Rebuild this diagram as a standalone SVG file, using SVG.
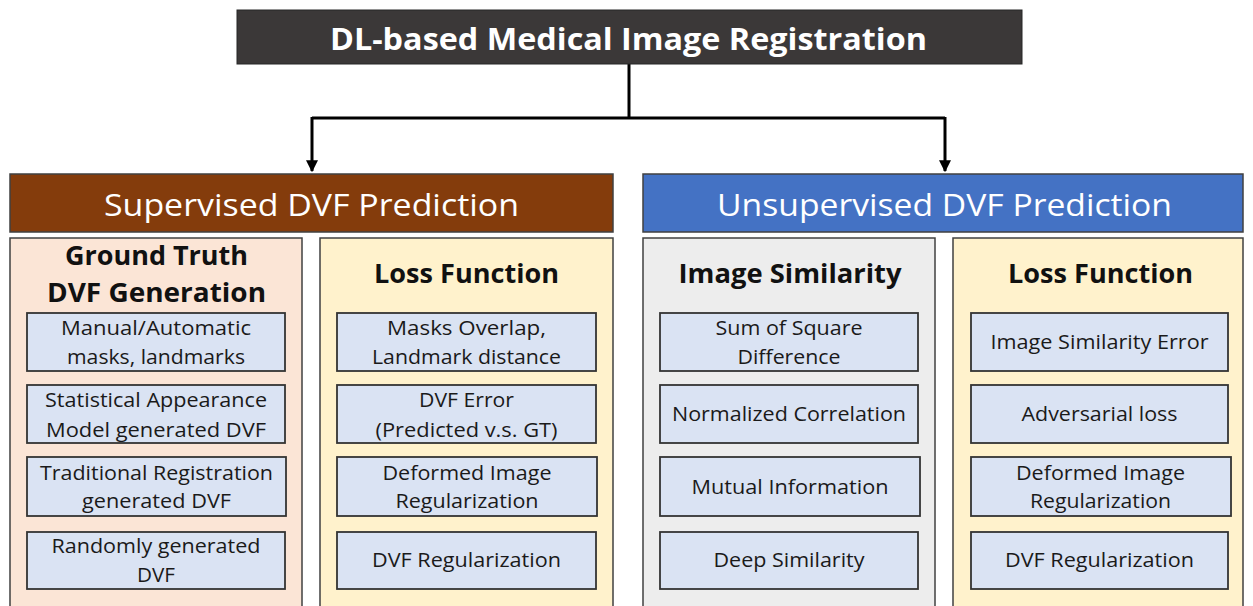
<svg xmlns="http://www.w3.org/2000/svg" width="1253" height="606" viewBox="0 0 1253 606">
<defs>
<style>
text{font-family:"Open Sans","Liberation Sans",sans-serif;text-anchor:middle;}
.title{font-size:31px;font-weight:bold;fill:#ffffff;}
.head{font-size:31px;fill:#ffffff;}
.ptitle{font-size:27px;font-weight:bold;fill:#111111;}
.item{font-size:20px;fill:#1a1a1a;}
.panel{stroke:#404040;stroke-width:1.5;}
.box{fill:#DAE3F3;stroke:#333333;stroke-width:1.8;}
.conn{stroke:#000000;stroke-width:3;fill:none;}
</style>
<marker id="ah" viewBox="0 0 10 10" refX="9" refY="5" markerWidth="4" markerHeight="4" orient="auto" markerUnits="strokeWidth">
<path d="M0,0 L10,5 L0,10 z" fill="#000000"/>
</marker>
</defs>
<rect width="1253" height="606" fill="#ffffff"/>

<g id="connectors">
<path class="conn" d="M629,64 V118"/>
<path class="conn" d="M312,118 H945"/>
<path class="conn" d="M312,117 V171" marker-end="url(#ah)"/>
<path class="conn" d="M945,117 V171" marker-end="url(#ah)"/>
</g>

<g id="root">
<rect x="237" y="10" width="785" height="54" fill="#3B3838" stroke="#262626" stroke-width="1"/>
<text class="title" x="628.5" y="50" textLength="597" lengthAdjust="spacingAndGlyphs">DL-based Medical Image Registration</text>
</g>

<g id="supervised">
<rect x="10" y="174" width="603" height="58" fill="#843C0C" stroke="#404040" stroke-width="1.5"/>
<text class="head" x="311.5" y="216" textLength="415" lengthAdjust="spacingAndGlyphs">Supervised DVF Prediction</text>
</g>

<g id="unsupervised">
<rect x="643" y="174" width="600" height="58" fill="#4472C4" stroke="#404040" stroke-width="1.5"/>
<text class="head" x="944.5" y="216" textLength="455" lengthAdjust="spacingAndGlyphs">Unsupervised DVF Prediction</text>
</g>

<g id="gt-panel">
<rect class="panel" x="10" y="238" width="292" height="376" fill="#FBE5D6"/>
<text class="ptitle" x="156.5" y="265" textLength="183" lengthAdjust="spacingAndGlyphs">Ground Truth</text>
<text class="ptitle" x="156.5" y="302" textLength="219" lengthAdjust="spacingAndGlyphs">DVF Generation</text>
</g>
<g id="gt-1">
<rect class="box" x="27" y="313" width="258" height="58"/>
<text class="item" x="156" y="335" textLength="190" lengthAdjust="spacingAndGlyphs">Manual/Automatic</text>
<text class="item" x="156" y="364" textLength="178" lengthAdjust="spacingAndGlyphs">masks, landmarks</text>
</g>
<g id="gt-2">
<rect class="box" x="27" y="385" width="258" height="58"/>
<text class="item" x="156" y="407" textLength="222" lengthAdjust="spacingAndGlyphs">Statistical Appearance</text>
<text class="item" x="156" y="437" textLength="220" lengthAdjust="spacingAndGlyphs">Model generated DVF</text>
</g>
<g id="gt-3">
<rect class="box" x="27" y="457" width="259" height="59"/>
<text class="item" x="156.5" y="480" textLength="233" lengthAdjust="spacingAndGlyphs">Traditional Registration</text>
<text class="item" x="156.5" y="508" textLength="149" lengthAdjust="spacingAndGlyphs">generated DVF</text>
</g>
<g id="gt-4">
<rect class="box" x="27" y="532" width="258" height="57"/>
<text class="item" x="156" y="553" textLength="209" lengthAdjust="spacingAndGlyphs">Randomly generated</text>
<text class="item" x="156" y="582" textLength="38" lengthAdjust="spacingAndGlyphs">DVF</text>
</g>

<g id="sl-panel">
<rect class="panel" x="320" y="238" width="293" height="376" fill="#FFF2CC"/>
<text class="ptitle" x="466.5" y="283" textLength="185" lengthAdjust="spacingAndGlyphs">Loss Function</text>
</g>
<g id="sl-1">
<rect class="box" x="337" y="313" width="259" height="58"/>
<text class="item" x="466.5" y="335" textLength="159" lengthAdjust="spacingAndGlyphs">Masks Overlap,</text>
<text class="item" x="466.5" y="364" textLength="189" lengthAdjust="spacingAndGlyphs">Landmark distance</text>
</g>
<g id="sl-2">
<rect class="box" x="337" y="385" width="259" height="58"/>
<text class="item" x="466.5" y="407" textLength="95" lengthAdjust="spacingAndGlyphs">DVF Error</text>
<text class="item" x="466.5" y="437" textLength="182" lengthAdjust="spacingAndGlyphs">(Predicted v.s. GT)</text>
</g>
<g id="sl-3">
<rect class="box" x="337" y="457" width="260" height="59"/>
<text class="item" x="467" y="480" textLength="169" lengthAdjust="spacingAndGlyphs">Deformed Image</text>
<text class="item" x="467" y="508" textLength="143" lengthAdjust="spacingAndGlyphs">Regularization</text>
</g>
<g id="sl-4">
<rect class="box" x="337" y="532" width="259" height="57"/>
<text class="item" x="466.5" y="567" textLength="189" lengthAdjust="spacingAndGlyphs">DVF Regularization</text>
</g>

<g id="is-panel">
<rect class="panel" x="643" y="238" width="292" height="376" fill="#EDEDED"/>
<text class="ptitle" x="790" y="283" textLength="223" lengthAdjust="spacingAndGlyphs">Image Similarity</text>
</g>
<g id="is-1">
<rect class="box" x="660" y="313" width="258" height="58"/>
<text class="item" x="789" y="335" textLength="147" lengthAdjust="spacingAndGlyphs">Sum of Square</text>
<text class="item" x="789" y="364" textLength="103" lengthAdjust="spacingAndGlyphs">Difference</text>
</g>
<g id="is-2">
<rect class="box" x="660" y="385" width="258" height="58"/>
<text class="item" x="789" y="421" textLength="234" lengthAdjust="spacingAndGlyphs">Normalized Correlation</text>
</g>
<g id="is-3">
<rect class="box" x="660" y="457" width="260" height="59"/>
<text class="item" x="790" y="494" textLength="197" lengthAdjust="spacingAndGlyphs">Mutual Information</text>
</g>
<g id="is-4">
<rect class="box" x="660" y="532" width="258" height="57"/>
<text class="item" x="789" y="567" textLength="151" lengthAdjust="spacingAndGlyphs">Deep Similarity</text>
</g>

<g id="ul-panel">
<rect class="panel" x="953" y="238" width="290" height="376" fill="#FFF2CC"/>
<text class="ptitle" x="1100.5" y="283" textLength="185" lengthAdjust="spacingAndGlyphs">Loss Function</text>
</g>
<g id="ul-1">
<rect class="box" x="971" y="313" width="257" height="58"/>
<text class="item" x="1099.5" y="349" textLength="218" lengthAdjust="spacingAndGlyphs">Image Similarity Error</text>
</g>
<g id="ul-2">
<rect class="box" x="971" y="385" width="257" height="58"/>
<text class="item" x="1099.5" y="421" textLength="156" lengthAdjust="spacingAndGlyphs">Adversarial loss</text>
</g>
<g id="ul-3">
<rect class="box" x="971" y="457" width="260" height="59"/>
<text class="item" x="1100.5" y="480" textLength="169" lengthAdjust="spacingAndGlyphs">Deformed Image</text>
<text class="item" x="1100.5" y="508" textLength="141" lengthAdjust="spacingAndGlyphs">Regularization</text>
</g>
<g id="ul-4">
<rect class="box" x="971" y="532" width="257" height="57"/>
<text class="item" x="1099.5" y="567" textLength="189" lengthAdjust="spacingAndGlyphs">DVF Regularization</text>
</g>
</svg>
